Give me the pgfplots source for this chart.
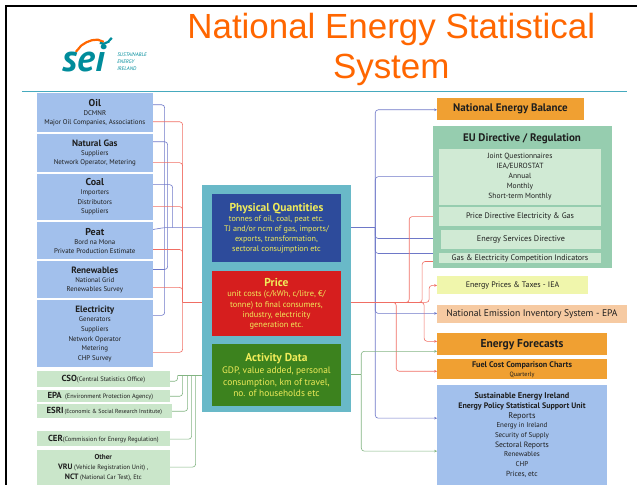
\documentclass[border=0pt]{standalone}
\usepackage{fontspec}
\setmainfont{PT Sans}
\newfontfamily\arial{Liberation Sans}
\usepackage{pgfplots}
\pgfplotsset{compat=1.18}
\usetikzlibrary{arrows.meta}

\definecolor{titleorange}{RGB}{255,102,0}
\definecolor{seiteal}{RGB}{0,140,155}
\definecolor{rule}{RGB}{70,170,190}
\definecolor{srcblue}{RGB}{162,192,236}
\definecolor{srcgreen}{RGB}{202,230,202}
\definecolor{hubteal}{RGB}{105,185,200}
\definecolor{pqblue}{RGB}{45,75,155}
\definecolor{pricered}{RGB}{214,30,30}
\definecolor{actgreen}{RGB}{60,130,30}
\definecolor{hubtext}{RGB}{240,236,90}
\definecolor{nebor}{RGB}{240,160,50}
\definecolor{eugreen}{RGB}{150,205,175}
\definecolor{eulight}{RGB}{208,234,212}
\definecolor{iea}{RGB}{240,246,172}
\definecolor{peach}{RGB}{246,202,162}
\definecolor{lblue}{RGB}{110,120,200}
\definecolor{lred}{RGB}{240,110,100}
\definecolor{lgreen}{RGB}{130,180,130}
\definecolor{txt}{RGB}{30,30,30}

\newcommand\fs[2]{\fontsize{#1}{#2}\selectfont}
\tikzset{bx/.style={anchor=north west, inner sep=0pt, outer sep=0pt, align=center, text=txt}}
% box: x, y (top), width, height, fill, font, text
\newcommand\bx[7]{\node[bx, fill=#5, minimum width=#3pt, minimum height=#4pt, font=#6] at (axis cs:#1,#2) {#7};}
\tikzset{arr/.style={-{Stealth[length=3pt,width=2.6pt]}}}

\begin{document}
\begin{tikzpicture}
\begin{axis}[x=1pt, y=1pt, y dir=reverse,
    xmin=0, xmax=638, ymin=0, ymax=486,
    scale only axis, hide axis, clip=false,
    every axis plot/.append style={line width=0.6pt, rounded corners=3pt}]

\path (axis cs:0,0) rectangle (axis cs:638,486);

% frame and rule
\addplot[black, line width=2.5pt, rounded corners=0pt] coordinates {(638,6) (6,6) (6,486)};
\addplot[rule, line width=1.2pt, rounded corners=0pt] coordinates {(22,92) (628,92)};

% title
\node[text=titleorange, font=\arial\fs{35}{40}, align=center] at (axis cs:392,50)
  {National Energy Statistical\\System};

% logo
\addplot[titleorange, line width=2.2pt, smooth] coordinates {(76,52) (84,44) (95,40) (104,42)};
\addplot[seiteal, line width=2.2pt, smooth] coordinates {(100,43) (106,43) (112,38)};
\node[text=seiteal, font=\fs{38}{38}\bfseries\itshape, anchor=base] at (axis cs:84,72) {sei};
\node[text=seiteal, font=\fs{5.2}{7}\itshape, anchor=west, align=left] at (axis cs:114,62)
  {SUSTAINABLE\\ENERGY\\IRELAND};

% ---------- connectors, left ----------
\addplot[lblue] coordinates {(153,105) (165,105) (165,228)};
\addplot[lblue] coordinates {(153,142) (168,142) (168,228)};
\addplot[lblue] coordinates {(153,185) (173,185) (173,228)};
\addplot[lblue] coordinates {(153,270) (168,270) (168,228)};
\addplot[lblue] coordinates {(153,316) (165,316) (165,228)};
\addplot[lblue, arr] coordinates {(153,230) (165,228) (212,228)};

\addplot[lred] coordinates {(153,122) (183,122) (183,303)};
\addplot[lred] coordinates {(153,163) (183,163) (183,303)};
\addplot[lred] coordinates {(153,207) (183,207) (183,303)};
\addplot[lred] coordinates {(153,250) (183,250) (183,303)};
\addplot[lred] coordinates {(153,288) (183,288) (183,303)};
\addplot[lred] coordinates {(153,353) (183,353) (183,303)};
\addplot[lred, arr] coordinates {(183,303) (212,303)};

\addplot[lgreen] coordinates {(170,382) (178,382) (178,376)};
\addplot[lgreen] coordinates {(170,397) (183,397) (183,376)};
\addplot[lgreen] coordinates {(172,412) (188,412) (188,376)};
\addplot[lgreen] coordinates {(170,440) (192,440) (192,376)};
\addplot[lgreen] coordinates {(170,468) (196,468) (196,376)};
\addplot[lgreen, arr] coordinates {(178,376) (212,376)};

% ---------- connectors, right ----------
\addplot[lblue] coordinates {(342,228) (376,228)};
\addplot[lblue, arr] coordinates {(376,228) (376,110) (438,110)};
\addplot[lblue, arr] coordinates {(376,228) (376,177) (440,177)};
\addplot[lblue, arr] coordinates {(376,228) (376,239) (442,239)};
\addplot[lblue, arr] coordinates {(376,228) (376,254) (440,254)};
\addplot[lblue, arr] coordinates {(376,228) (376,314) (438,314)};
\addplot[lblue, arr] coordinates {(376,228) (376,419) (438,419)};

\addplot[lred] coordinates {(342,303) (422,303)};
\addplot[lred, arr] coordinates {(342,303) (410,303) (410,217) (440,217)};
\addplot[lred, arr] coordinates {(342,303) (423,303) (423,262) (440,262)};
\addplot[lred, arr] coordinates {(342,303) (430,303) (430,286) (438,286)};
\addplot[lred, arr] coordinates {(342,303) (425,303) (425,342) (438,342)};
\addplot[lred, arr] coordinates {(342,303) (397,303) (397,372) (438,372)};

\addplot[lgreen] coordinates {(342,375) (362,375)};
\addplot[lgreen, arr] coordinates {(362,375) (362,352) (438,352)};
\addplot[lgreen, arr] coordinates {(362,375) (362,452) (438,452)};

% ---------- source boxes ----------
\bx{37}{93}{116}{39}{srcblue}{\fs{6.9}{9}}{{\fs{10}{12}\bfseries Oil}\\DCMNR\\Major Oil Companies, Associations}
\bx{37}{134}{116}{38}{srcblue}{\fs{6.9}{9}}{{\fs{9.2}{12}\bfseries Natural Gas}\\Suppliers\\Network Operator, Metering}
\bx{37}{174}{116}{46}{srcblue}{\fs{6.9}{9.3}}{{\fs{10}{12}\bfseries Coal}\\Importers\\Distributors\\Suppliers}
\bx{37}{222}{116}{38}{srcblue}{\fs{6.9}{9}}{{\fs{10}{12}\bfseries Peat}\\Bord na Mona\\Private Production Estimate}
\bx{37}{262}{116}{37}{srcblue}{\fs{6.9}{9}}{{\fs{9.2}{12}\bfseries Renewables}\\National Grid\\Renewables Survey}
\bx{37}{301}{116}{67}{srcblue}{\fs{6.9}{9.7}}{{\fs{9.2}{11.5}\bfseries Electricity}\\Generators\\Suppliers\\Network Operator\\Metering\\CHP Survey}

\bx{37}{372}{133}{16}{srcgreen}{\fs{6.5}{8}}{{\fs{8.8}{9}\bfseries CSO}(Central Statistics Office)}
\bx{37}{391}{133}{12}{srcgreen}{\fs{6.3}{8}}{\hspace*{-6pt}{\fs{8.8}{9}\bfseries EPA}\ \ (Environment Protection Agency)}
\bx{37}{405}{135}{14}{srcgreen}{\fs{5.9}{8}}{{\fs{8.8}{9}\bfseries ESRI}\,(Economic \& Social Research Institute)}
\bx{37}{432}{133}{15}{srcgreen}{\fs{6.3}{8}}{{\fs{8.8}{9}\bfseries CER}(Commission for Energy Regulation)}
\bx{37}{451}{133}{35}{srcgreen}{\fs{6.4}{10}}{{\fs{7.2}{9}\bfseries Other}\\{\fs{7.8}{9}\bfseries VRU} (Vehicle Registration Unit) ,\\{\fs{7.8}{9}\bfseries NCT} (National Car Test), Etc}

% ---------- hub ----------
\bx{202}{185}{150}{228}{hubteal}{}{}
\node[bx, fill=pqblue, text=hubtext, minimum width=130pt, minimum height=69pt, font=\fs{8.1}{10}] at (axis cs:212,194)
  {{\fs{11.5}{14}\bfseries Physical Quantities}\\tonnes of oil, coal, peat etc.\\TJ and/or ncm of gas, imports/\\exports, transformation,\\sectoral consujmption etc};
\node[bx, fill=pricered, text=hubtext, minimum width=130pt, minimum height=65pt, font=\fs{8.4}{10.2}] at (axis cs:212,272)
  {{\fs{11.5}{12.5}\bfseries Price}\\unit costs (c/kWh, c/litre, €/\\tonne) to final consumers,\\industry, electricity\\generation etc.};
\node[bx, fill=actgreen, text=hubtext, minimum width=130pt, minimum height=62pt, font=\fs{9.4}{11.6}] at (axis cs:212,345)
  {{\fs{11.5}{13.5}\bfseries Activity Data}\\GDP, value added, personal\\consumption, km of travel,\\no. of households etc};

% ---------- outputs ----------
\bx{438}{98}{147}{22}{nebor}{\fs{11}{12}\bfseries}{National Energy Balance}
\bx{434}{126}{179}{143}{eugreen}{}{}
\node[text=txt, font=\fs{11}{12}\bfseries] at (axis cs:523,139) {EU Directive / Regulation};
\bx{440}{149}{162}{56}{eulight}{\fs{7.5}{10}}{Joint Questionnaires\\IEA/EUROSTAT\\Annual\\Monthly\\Short-term Monthly}
\bx{440}{207}{162}{19}{eulight}{\fs{8}{9}}{Price Directive Electricity \& Gas}
\bx{442}{230}{160}{19}{eulight}{\fs{8.2}{9}}{Energy Services Directive}
\bx{440}{253}{162}{11}{eulight}{\fs{8}{8}}{Gas \& Electricity Competition Indicators}
\bx{438}{277}{151}{18}{iea}{\fs{8}{9}}{Energy Prices \& Taxes - IEA}
\bx{438}{306}{190}{18}{peach}{\fs{9.6}{10}}{National Emission Inventory System - EPA}
\bx{438}{334}{170}{22}{nebor}{\fs{11.5}{12}\bfseries}{Energy Forecasts}
\bx{438}{360}{170}{20}{nebor}{\fs{8.2}{9}\bfseries}{Fuel Cost Comparison Charts\\{\fs{6.2}{7}\mdseries Quarterly}}
\bx{438}{386}{170}{100}{srcblue}{\fs{7}{9.7}}{{\fs{8.3}{10}\bfseries Sustainable Energy Ireland}\\{\fs{8}{10}\bfseries Energy Policy Statistical Support Unit}\\{\fs{8.3}{10}Reports}\\Energy in Ireland\\Security of Supply\\{\fs{7.7}{10}Sectoral Reports}\\Renewables\\CHP\\{\fs{7.4}{10}Prices, etc}}

\end{axis}
\end{tikzpicture}
\end{document}
